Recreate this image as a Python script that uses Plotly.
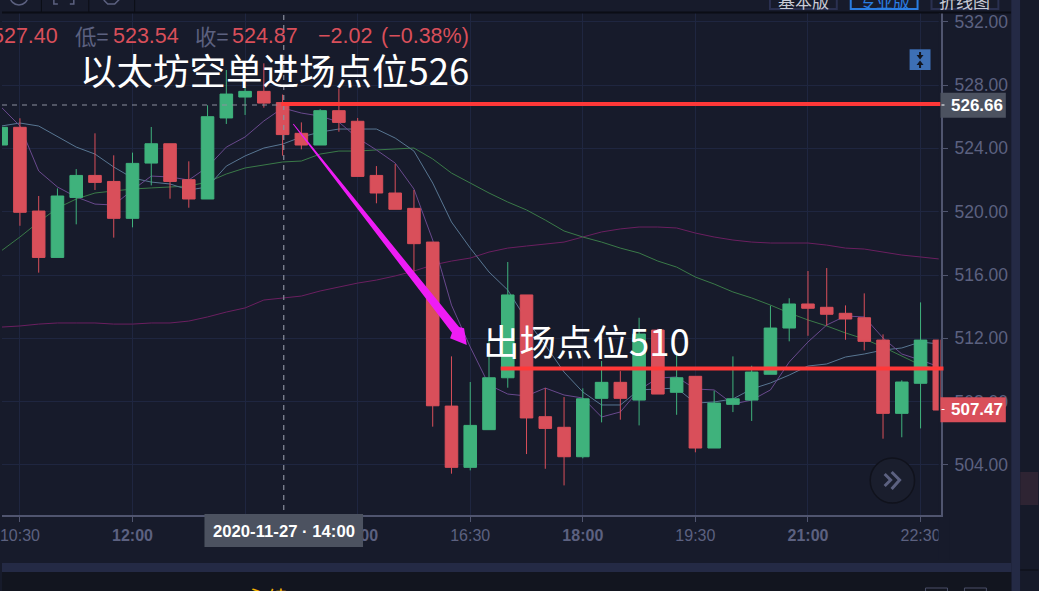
import pandas as pd
import plotly.graph_objects as go

times = pd.date_range("2020-11-27 10:15", periods=51, freq="15min")
opens = [524.21,525.33,520.04,517.11,520.90,522.29,521.91,519.58,523.07,524.29,522.02,520.80,525.92,527.24,527.60,526.89,524.95,524.21,526.38,525.71,522.29,521.18,520.21,518.08,507.72,503.85,506.23,509.51,514.74,507.05,506.38,504.52,508.21,509.22,508.10,512.52,508.59,509.60,505.07,507.83,508.10,509.73,512.65,514.17,513.96,513.58,513.30,511.89,507.26,509.16,511.89]
closes = [525.33,519.96,517.11,520.99,522.29,521.85,519.58,523.05,524.29,521.91,520.80,526.00,527.43,527.60,526.86,524.87,524.21,526.38,525.64,522.23,521.18,520.15,517.98,507.74,503.85,506.50,509.51,514.74,506.97,506.31,504.52,508.18,509.22,508.21,512.27,508.48,509.51,505.07,507.91,508.18,509.87,512.65,514.17,513.90,513.52,513.22,511.81,507.26,509.24,511.89,507.47]
highs = [525.40,525.90,520.99,521.47,522.69,524.95,523.56,523.73,525.35,524.29,523.18,526.72,528.95,527.90,529.37,527.40,525.64,526.48,527.79,525.92,522.88,523.01,521.37,518.08,510.86,509.24,511.90,516.82,514.74,508.86,508.29,508.84,510.57,509.93,513.30,512.60,511.15,509.60,508.69,510.86,510.27,514.06,514.53,516.25,516.44,514.08,514.84,512.25,509.35,514.27,511.95]
lows = [524.20,519.11,516.15,517.11,519.20,521.37,518.36,519.01,521.66,520.82,520.25,520.80,525.54,526.11,526.57,523.54,523.94,524.21,525.05,522.23,520.53,520.15,516.21,506.42,503.45,503.66,506.23,508.88,504.69,503.76,502.71,504.42,506.69,506.86,506.50,508.48,507.17,504.80,505.07,507.34,506.78,509.73,511.81,512.16,512.80,511.91,511.24,505.66,505.75,506.31,507.47]
ma5 = [526.61,525.41,522.57,521.56,520.93,520.48,520.42,521.37,522.25,522.19,522.00,522.82,524.08,524.72,525.73,526.55,526.23,526.04,525.66,524.65,523.90,523.07,521.43,518.21,514.10,511.45,509.05,508.48,508.36,508.86,508.42,508.23,507.03,507.35,508.74,509.49,509.56,508.80,508.74,507.85,508.10,508.74,510.50,511.77,512.84,513.41,513.35,512.02,511.01,510.63,510.19]
ma10 = [525.41,525.60,525.41,524.72,524.08,523.64,522.82,522.13,521.87,521.75,521.37,521.56,522.88,523.52,524.02,524.27,524.72,525.03,525.22,525.22,525.22,524.65,523.83,521.81,519.35,517.70,516.19,515.05,513.16,511.58,509.87,508.61,507.79,507.79,508.74,508.80,508.86,507.91,507.98,508.17,508.80,509.18,509.68,510.25,510.38,510.82,511.01,511.26,511.39,511.77,511.64]
ma20 = [517.52,518.40,519.35,520.23,520.80,521.18,521.31,521.43,521.50,521.56,521.62,521.87,522.38,522.76,522.95,523.14,523.20,523.64,523.83,523.83,523.90,523.96,524.02,523.33,522.44,521.81,521.18,520.61,520.11,519.47,518.78,518.40,518.08,517.70,517.39,516.88,516.50,515.87,515.43,514.93,514.55,514.10,513.60,513.16,512.78,512.34,511.96,511.45,510.88,510.31,510.06]
ma60 = [512.71,512.78,512.90,512.97,512.97,512.97,512.90,512.90,512.97,512.97,513.09,513.35,513.66,513.92,514.42,514.55,514.67,514.99,515.24,515.49,515.68,515.94,516.25,516.63,516.88,517.07,517.45,517.70,517.83,517.96,518.08,518.40,518.72,518.91,519.03,519.03,518.97,518.65,518.40,518.21,518.08,518.02,518.02,518.02,517.89,517.70,517.64,517.45,517.26,517.14,517.01]

x_ticks = ["2020-11-27 10:30","2020-11-27 12:00","2020-11-27 13:30","2020-11-27 15:00","2020-11-27 16:30","2020-11-27 18:00","2020-11-27 19:30","2020-11-27 21:00","2020-11-27 22:30"]
x_labels = ["10:30","<b>12:00</b>","13:30","<b>15:00</b>","16:30","<b>18:00</b>","19:30","<b>21:00</b>","22:30"]
y_ticks = [504,508,512,516,520,524,528,532]
y_labels = ["504.00","508.00","512.00","516.00","520.00","524.00","528.00","532.00"]
entry_price = 526.80
exit_price = 510.09
marker_price = 526.66
last_price = 507.47
title_entry = "以太坊空单进场点位526"
title_exit = "出场点位510"

BG = "#171b2b"; GRID = "#1f2640"; AXIS = "#50556f"; TXT = "#5c6180"
RED = "#d94f5a"; GREEN = "#3fb27c"; GREYBOX = "#4c5260"; STRIP = "#242a45"; DARK = "#12151f"
CJK = "Noto Sans CJK SC"; LAT = "Liberation Sans"
L, R, T, B = 0, 941.5, 13, 515
def px(x): return (x - L) / (R - L)
def py(y): return (B - y) / (B - T)

fig = go.Figure()
for vals, col in [(ma60, "#6b1f60"), (ma20, "#3a7a48"), (ma10, "#587692"), (ma5, "#69498d")]:
    fig.add_trace(go.Scatter(x=times, y=vals, mode="lines", line=dict(color=col, width=1), hoverinfo="skip", showlegend=False))
fig.add_trace(go.Candlestick(x=times, open=opens, high=highs, low=lows, close=closes, yaxis="y2", whiskerwidth=0,
    increasing=dict(line=dict(color=GREEN, width=1), fillcolor=GREEN),
    decreasing=dict(line=dict(color=RED, width=1), fillcolor=RED), showlegend=False, hoverinfo="skip"))

shapes, ann = [], []
def rect(x0, y0, x1, y1, fill, line=None, lw=0):
    shapes.append(dict(type="rect", xref="paper", yref="paper", x0=px(x0), x1=px(x1), y0=py(y0), y1=py(y1),
                       fillcolor=fill, line=dict(color=line or fill, width=lw), layer="above"))
def path(points, fill=None, line=None, lw=0, closed=True):
    d = "M " + " L ".join(f"{px(a):.5f},{py(b):.5f}" for a, b in points) + (" Z" if closed else "")
    shapes.append(dict(type="path", xref="paper", yref="paper", path=d, fillcolor=fill if fill else "rgba(0,0,0,0)",
                       line=dict(color=line or "rgba(0,0,0,0)", width=lw), layer="above"))
def text(x, y, s, size, color, anchor="left", family=LAT):
    ann.append(dict(xref="paper", yref="paper", x=px(x), y=py(y), text=s, showarrow=False, xanchor=anchor, yanchor="middle",
                    font=dict(size=size, color=color, family=family), align=anchor))

# frame pieces
rect(0, 11.5, 1012, 13.5, "#0b0d15")
rect(939, 517, 950, 560, BG)
rect(939.2, 13, 941, 515, BG)
rect(1012, 0, 1021, 591, STRIP)
rect(1021, 0, 1039, 591, "#161a29")
rect(1021, 472, 1039, 505, "#2e2433")
rect(1021, 569.5, 1039, 570.5, "#0b0d15")
rect(0, 563, 1012, 572, STRIP)
rect(0, 572, 1012, 591, DARK)
rect(926, 588, 948, 600, "rgba(0,0,0,0)", "#4a4f68", 1)
rect(965, 588, 987, 600, "rgba(0,0,0,0)", "#4a4f68", 1)
text(243, 597, "永续", 21, "#f5b400", family=CJK)

# toolbar
for xs in (39.5, 87, 133):
    rect(xs - .5, 0, xs + .5, 12, "#0b0d15")
shapes.append(dict(type="circle", xref="paper", yref="paper", x0=px(8), x1=px(26), y0=py(-13), y1=py(5), line=dict(color=TXT, width=1.5), layer="above"))
path([(52, -2), (52, 4), (56, 4)], line=TXT, lw=1.5, closed=False)
path([(72, -2), (72, 4), (68, 4)], line=TXT, lw=1.5, closed=False)
path([(102, 0), (106, 4), (113, 4), (118, -1)], line=TXT, lw=1.5, closed=False)
for x0, x1, col, lab, tc in [(770, 837, "#2a3050", "基本版", "#c9cbd6"), (851, 918, "#2a7de1", "专业版", "#2a7de1"), (932, 999, "#2a3050", "折线图", "#c9cbd6")]:
    shapes.append(dict(type="rect", xref="paper", yref="paper", x0=px(x0), x1=px(x1), y0=py(9), y1=py(-8), line=dict(color=col, width=2), fillcolor="rgba(0,0,0,0)", layer="above"))
    text((x0 + x1) / 2, 0, lab, 17, tc, "center", CJK)

# crosshair
dash = dict(color="#8b8f9d", width=1.2, dash="5px,5px")
shapes.append(dict(type="line", xref="paper", yref="paper", x0=px(282.5), x1=px(282.5), y0=py(15), y1=py(515), line=dash, layer="above"))
shapes.append(dict(type="line", xref="paper", yref="paper", x0=0, x1=px(282.5), y0=py(105), y1=py(105), line=dash, layer="above"))

# drawings
shapes.append(dict(type="line", xref="paper", yref="y", x0=px(280), x1=px(941), y0=entry_price, y1=entry_price, line=dict(color="#ff3838", width=4), layer="above"))
shapes.append(dict(type="line", xref="paper", yref="y", x0=px(500), x1=px(944), y0=exit_price, y1=exit_price, line=dict(color="#ff3838", width=4), layer="above"))
path([(291.7, 124.3), (292.4, 123.7), (458.3, 327.1), (463.3, 328.3), (466, 345), (449.3, 338.3), (451.2, 332.7)], fill="#ee1cf5")

# OHLC strip
for x, s, c, a in [(58, "527.40", RED, "right"), (71, "低=", TXT, "left"), (109, "523.54", RED, "left"), (192, "收=", TXT, "left"), (229, "524.87", RED, "left"), (315, "−2.02", RED, "left"), (378, "(−0.38%)", RED, "left")]:
    text(x, 36, s, 21.5, c, a, CJK if "=" in s else LAT)

text(76, 69.5, title_entry, 36.5, "white", family=CJK)
text(480, 340, title_exit, 36.5, "white", family=CJK)

# price and time boxes
rect(941, 92.7, 1006.5, 117.7, GREYBOX)
rect(941, 397.3, 1006.5, 422.3, RED)
path([(942, 105), (945, 105)], line="white", lw=1, closed=False)
path([(942, 409.5), (945, 409.5)], line="white", lw=1, closed=False)
text(950, 105.5, f"<b>{marker_price:.2f}</b>", 17, "white")
text(950, 409.5, f"<b>{last_price:.2f}</b>", 17, "white")
rect(203, 514, 362, 547, GREYBOX)
text(282.5, 531, "<b>2020-11-27 · 14:00</b>", 16.7, "white", "center")

# scale button
shapes.append(dict(type="circle", xref="paper", yref="paper", x0=px(870.5), x1=px(915), y0=py(458), y1=py(503), fillcolor="#1a1e2d", line=dict(color="#10121c", width=1.5), layer="above"))
path([(885, 474), (891, 480), (885, 486)], line="#5c6180", lw=3, closed=False)
path([(892, 472), (900, 480), (892, 489)], line="#5c6180", lw=3, closed=False)

# collapse icon
rect(910, 49.3, 931, 70, "#3d6fb5")
path([(919.5, 52), (921.5, 52), (921.5, 55), (924, 55), (920.5, 59.5), (917, 55), (919.5, 55)], fill="#12151f")
path([(919.5, 68), (921.5, 68), (921.5, 65), (924, 65), (920.5, 60.5), (917, 65), (919.5, 65)], fill="#12151f")

t0 = pd.Timestamp("2020-11-27 10:15")
r0 = t0 + pd.Timedelta(seconds=40)
r1 = t0 + pd.Timedelta(minutes=15 * 50.09)
yrange = [500.84, 532.55]
fig.update_layout(
    width=1039, height=591, autosize=False, margin=dict(l=L, r=1039 - R, t=T, b=591 - B, pad=0),
    paper_bgcolor=BG, plot_bgcolor=BG, showlegend=False, hovermode=False, shapes=shapes, annotations=ann,
    boxgap=0.33, boxgroupgap=0,
    xaxis=dict(type="date", range=[r0, r1], rangeslider=dict(visible=False), tickmode="array", tickvals=x_ticks, ticktext=x_labels,
               showgrid=True, gridcolor=GRID, gridwidth=1, zeroline=False, showline=True, linecolor=AXIS, linewidth=2,
               ticks="outside", ticklen=5, tickcolor=AXIS, ticklabeloverflow="allow", tickfont=dict(size=16, color=TXT, family=LAT)),
    yaxis=dict(range=yrange, side="right", tickmode="array", tickvals=y_ticks, ticktext=y_labels, showgrid=True, gridcolor=GRID, gridwidth=1,
               zeroline=False, showline=True, linecolor=AXIS, linewidth=2, ticks="outside", ticklen=5, tickcolor=AXIS,
               ticklabelstandoff=3, tickfont=dict(size=17.5, color=TXT, family=LAT)),
    yaxis2=dict(range=yrange, overlaying="y", side="right", visible=False),
)
fig.write_html("out.html", config=dict(displayModeBar=False), post_script="document.body.style.margin='0';document.body.style.overflow='hidden';document.body.style.background='#171b2b';")
